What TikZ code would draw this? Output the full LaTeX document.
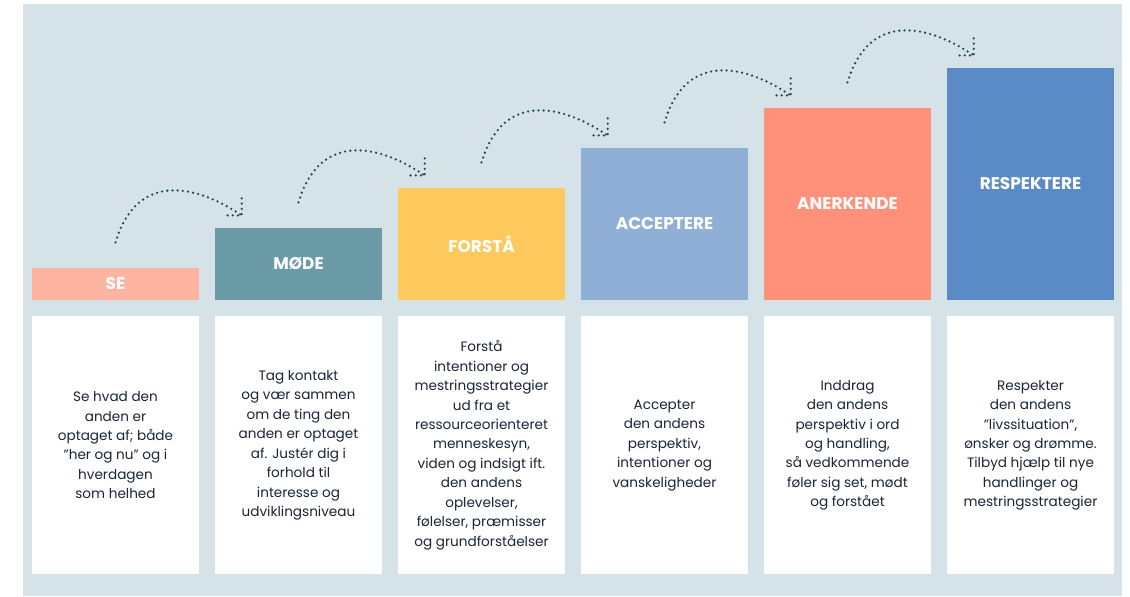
\documentclass[tikz,border=0pt]{standalone}
\usepackage{fontspec}
\setmainfont{Poppins}
\usetikzlibrary{calc}
\definecolor{bgc}{HTML}{D5E3E8}
\definecolor{txtc}{HTML}{1A2636}
\definecolor{dotc}{HTML}{1F4A5A}
\definecolor{se}{HTML}{FDB5A2}
\definecolor{mode}{HTML}{6B9BA7}
\definecolor{forsta}{HTML}{FDC95D}
\definecolor{accept}{HTML}{8FAFD7}
\definecolor{anerk}{HTML}{FF917A}
\definecolor{respekt}{HTML}{5B8BC6}
\newcommand\qt{\symbol{34}}
\begin{document}
\begin{tikzpicture}[x=0.75pt,y=-0.75pt,
    stepbox/.style={rectangle,anchor=south,minimum width=125.25pt,inner sep=0pt,
      text=white,font=\bfseries\fontsize{12.7}{14}\selectfont},
    descbox/.style={rectangle,fill=white,anchor=north,minimum width=125.25pt,
      minimum height=193.5pt,inner sep=0pt,align=center,text=txtc,
      font=\fontsize{10.2}{14.6}\selectfont},
    hop/.style={draw=dotc,line width=1.9pt,line cap=round,dash pattern=on 0pt off 3.9pt}]

        \fill[white] (0,0) rectangle (1130,596);
        \fill[bgc] (23,4) rectangle (1122,596);
        \useasboundingbox (0,0) rectangle (1130,596);

        \begin{scope}[every node/.style=stepbox]
          \node[fill=se,      minimum height=24pt]  (s1) at (115.5,300) {SE};
          \node[fill=mode,    minimum height=54pt]  (s2) at (298.5,300) {MØDE};
          \node[fill=forsta,  minimum height=84pt]  (s3) at (481.5,300) {FORSTÅ};
          \node[fill=accept,  minimum height=114pt] (s4) at (664.5,300) {ACCEPTERE};
          \node[fill=anerk,   minimum height=144pt] (s5) at (847.5,300) {ANERKENDE};
          \node[fill=respekt, minimum height=174pt] (s6) at (1030.5,300) {RESPEKTERE};
        \end{scope}

        \begin{scope}[every node/.style=descbox]
          \node (d1) at (115.5,316)  {Se hvad den\\anden er\\optaget af; både\\\qt her og nu\qt{} og i\\hverdagen\\som helhed};
          \node (d2) at (298.5,316)  {Tag kontakt\\og vær sammen\\om de ting den\\anden er optaget\\af. Justér dig i\\forhold til\\interesse og\\udviklingsniveau};
          \node (d3) at (481.5,316)  {Forstå\\intentioner og\\mestringsstrategier\\ud fra et\\ressourceorienteret\\menneskesyn,\\viden og indsigt ift.\\den andens\\oplevelser,\\følelser, præmisser\\og grundforståelser};
          \node (d4) at (664.5,316)  {Accepter\\den andens\\perspektiv,\\intentioner og\\vanskeligheder};
          \node (d5) at (847.5,316)  {Inddrag\\den andens\\perspektiv i ord\\og handling,\\så vedkommende\\føler sig set, mødt\\og forstået};
          \node (d6) at (1030.5,316) {Respekter\\den andens\\\qt livssituation\qt,\\ønsker og drømme.\\Tilbyd hjælp til nye\\handlinger og\\mestringsstrategier};
        \end{scope}

        \foreach \i/\j in {1/2,2/3,3/4,4/5,5/6} {
          \coordinate (a\i) at ($(s\i.north)+(0,-25)$);
          \coordinate (b\i) at ($(s\j.north west)+(27,-12)$);
          \draw[hop] (a\i) .. controls +(20,-68) and +(-50,-34) .. (b\i);
          \draw[hop] ($(b\i)+(0,-17)$) -- (b\i) -- ($(b\i)+(-18,0)$);
        }

      \end{tikzpicture}
\end{document}
